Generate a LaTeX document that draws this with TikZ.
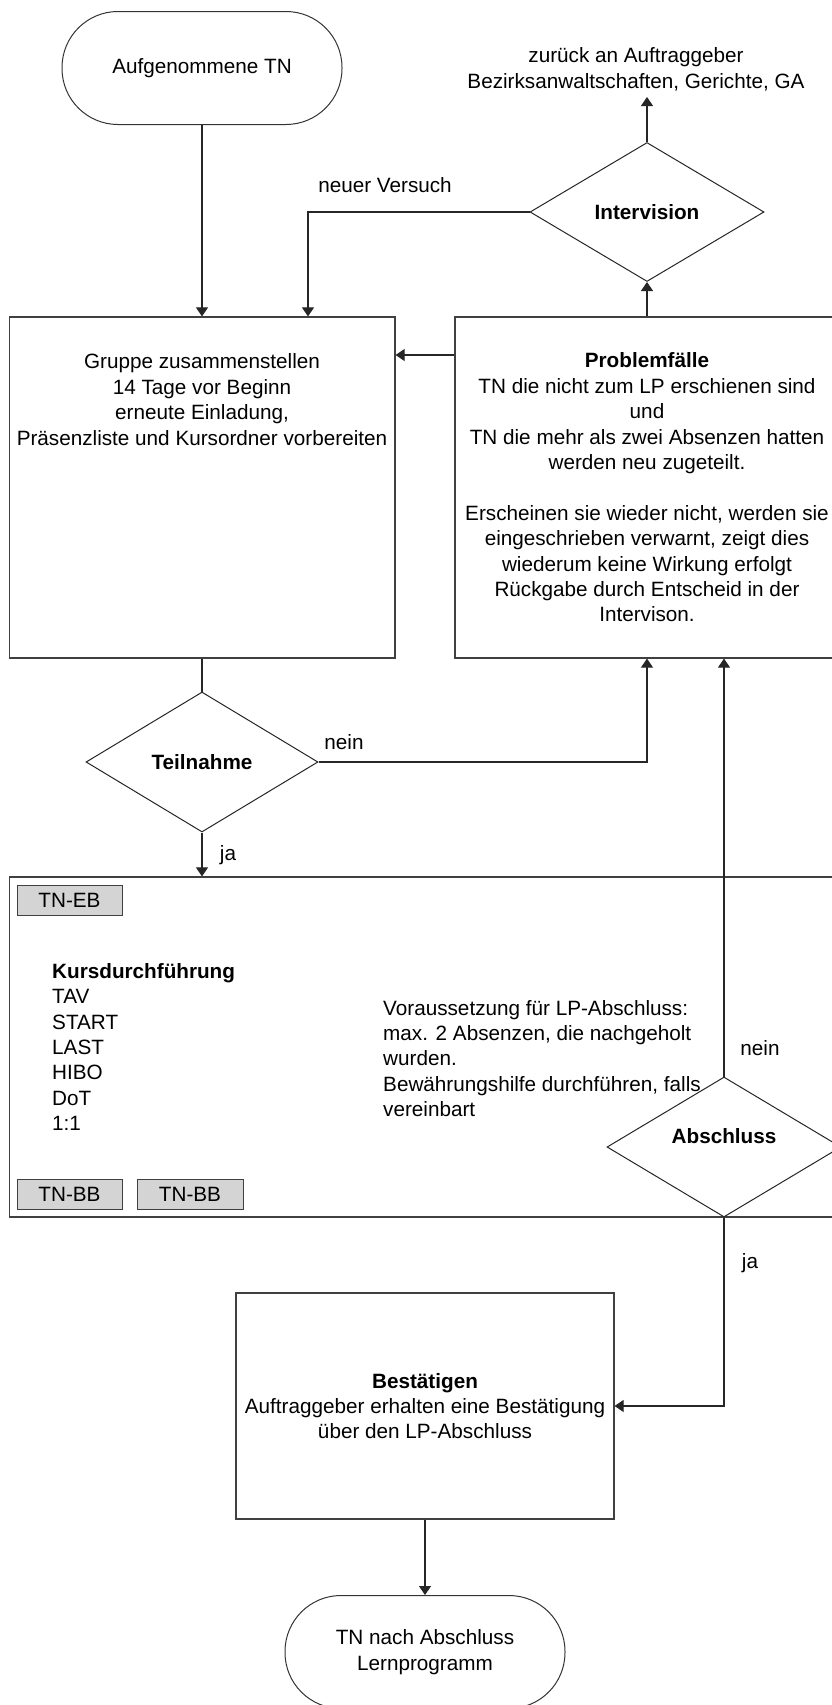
\documentclass[tikz,border=0pt]{standalone}
\usepackage{fontspec}
\setmainfont{Liberation Sans}
\usetikzlibrary{shapes.geometric,arrows.meta}
\begin{document}
\begin{tikzpicture}[x=1pt,y=-1pt,
  every node/.style={font=\fontsize{20.7}{25.4}\selectfont, inner sep=0pt, text=black},
  line/.style={draw=black!85, line width=1.1pt},
  arr/.style={line, -{Triangle[width=12pt,length=9pt]}},
  box/.style={draw=black!75, line width=1.2pt, rectangle},
  term/.style={draw=black!80, line width=1pt, rectangle, rounded corners=56pt,
    minimum width=280pt, minimum height=113pt, align=center},
  decision/.style={draw=black!85, line width=1pt, diamond, minimum width=234pt,
    minimum height=140pt},
  tag/.style={draw=black!75, line width=1pt, fill=black!17, rectangle,
    minimum height=30pt},
  lbl/.style={align=center}
]
\useasboundingbox (0,0) rectangle (832,1705);

% start and end terminators
\node[term] (start) at (202,68) {Aufgenommene TN};
\node[term] (end) at (425,1652) {TN nach Abschluss\\Lernprogramm};

% group preparation
\node[box, minimum width=385.5pt, minimum height=341pt] (grp) at (202.25,487.5) {};
\node[lbl] (grptxt) at (202,399.5) {Gruppe zusammenstellen\\14 Tage vor Beginn\\erneute Einladung,\\Präsenzliste und Kursordner vorbereiten};

% problem cases
\node[box, minimum width=390pt, minimum height=341pt] (pf) at (650,487.5) {};
\node[lbl] (pftxt) at (647,487.5) {\textbf{Problemfälle}\\TN die nicht zum LP erschienen sind\\und\\TN die mehr als zwei Absenzen hatten\\werden neu zugeteilt.\\[25.4pt]Erscheinen sie wieder nicht, werden sie\\eingeschrieben verwarnt, zeigt dies\\wiederum keine Wirkung erfolgt\\Rückgabe durch Entscheid in der\\Intervison.};

% intervision decision
\node[decision, minimum width=234pt, minimum height=139pt] (int) at (647,212) {\textbf{Intervision}};
\coordinate (back) at (647,97);
\node[lbl] (rettxt) at (636,69.5) {zurück an Auftraggeber\\Bezirksanwaltschaften, Gerichte, GA};
\coordinate (retry) at (308,0);
\node (retrytxt) at (385,185) {neuer Versuch};

% participation decision
\node[decision, minimum width=232pt] (teil) at (202,762) {\textbf{Teilnahme}};
\node (neintxt) at (344,742) {nein};
\node (jatxt) at (228,855) {ja};

% course execution
\node[box, minimum width=835.5pt, minimum height=340pt] (kurs) at (427.25,1047) {};
\node[tag, minimum width=105pt] (eb) at (69.5,900) {TN-EB};
\node[tag, minimum width=105pt] (bba) at (69.5,1194.5) {TN-BB};
\node[tag, minimum width=106pt] (bbb) at (190,1194.5) {TN-BB};
\node[align=left, anchor=west] (kurstxt) at (52,1047) {\textbf{Kursdurchführung}\\TAV\\START\\LAST\\HIBO\\DoT\\1:1};
\node[align=left, anchor=west] (vortxt) at (383,1058.5) {Voraussetzung für LP-Abschluss:\\max. 2 Absenzen, die nachgeholt\\wurden.\\Bewährungshilfe durchführen, falls\\vereinbart};

% completion decision
\node[decision] (abs) at (724,1147) {};
\node (abstxt) at (724,1136) {\textbf{Abschluss}};
\node (nein2txt) at (760,1048) {nein};
\node (ja2txt) at (750,1263) {ja};

% confirmation
\node[box, minimum width=378pt, minimum height=226pt, align=center] (best) at (425,1406) {\textbf{Bestätigen}\\Auftraggeber erhalten eine Bestätigung\\über den LP-Abschluss};

% connectors
\draw[arr] (start.south) -- (start.south |- grp.north);
\draw[arr] (pf.west |- 0,355) -- (grp.east |- 0,355);
\draw[arr] (int.south |- pf.north) -- (int.south);
\draw[arr] (int.north) -- (back);
\draw[arr] (int.west) -| (retry |- grp.north);
\draw[line] (teil.north |- grp.south) -- (teil.north);
\draw[arr] (teil.east) -| (int.south |- pf.south);
\draw[arr] (teil.south) -- (teil.south |- kurs.north);
\draw[arr] (abs.north) -- (abs.north |- pf.south);
\draw[arr] (abs.south) |- (best.east);
\draw[arr] (best.south) -- (end.north);
\end{tikzpicture}
\end{document}
